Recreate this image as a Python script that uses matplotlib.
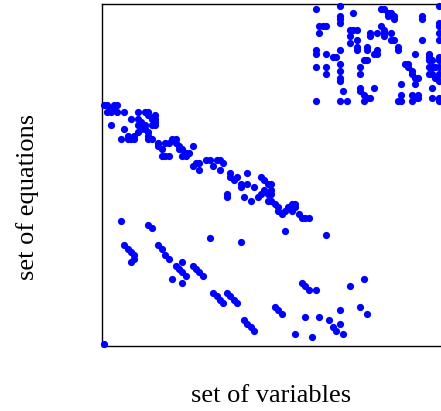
import matplotlib
matplotlib.use("Agg")
import matplotlib.pyplot as plt

# Sparsity pattern (column index = variable, row index = equation)
n_vars = 100
n_eqs = 100

block_top_right = [
    (62,1),(69,0),(69,3),(69,4),(69,5),(73,2),(63,6),(64,6),(65,6),(63,8),(72,7),(73,7),(74,7),
    (72,9),(74,10),(72,11),(74,12),(74,13),(78,8),(78,9),(62,13),(62,14),(65,14),(67,15),(68,15),
    (69,13),(77,12),(77,13),(79,14),(69,17),(76,16),(77,16),(62,18),(65,18),(65,20),(69,19),(69,21),
    (69,22),(75,18),(75,20),(70,25),(75,24),(75,25),(76,26),(77,27),(78,27),(76,28),(79,24),(62,28),
    (69,28),(71,28),
    (81,1),(82,1),(83,2),(83,3),(84,2),(85,3),(85,4),(93,3),(93,4),(98,5),(98,6),(98,0),(80,8),(81,6),
    (82,7),(82,9),(82,8),(84,8),(84,10),(85,10),(93,10),(98,8),(98,10),(86,12),(86,13),(80,13),(80,14),
    (91,14),(95,14),(95,15),(96,16),(95,16),(98,15),(98,16),(88,17),(89,17),(89,18),(90,19),(90,20),
    (91,21),(92,21),(95,18),(96,18),(97,18),(98,18),(95,20),(96,20),(97,21),(98,22),(98,20),(87,23),
    (91,23),(96,24),(87,26),(86,28),(87,28),(90,26),(91,27),(92,26),(92,27),(90,28),(96,27),(98,27),
    (98,28),
]

block_middle = [
    (0,29),(1,29),(3,29),(4,29),(2,30),(3,30),(4,31),(1,31),(2,31),
    (2,35),(6,31),(6,36),(5,39),(8,33),(10,31),(12,31),(13,31),(13,32),(14,33),(15,32),(15,33),(15,34),
    (14,35),(15,35),(10,33),(10,35),(11,36),(11,34),(12,35),(12,36),(13,37),(13,38),(14,39),(13,39),
    (7,38),(7,39),(8,39),(9,39),(10,37),(9,38),
    (16,40),(16,41),(17,42),(17,44),(18,44),(19,44),(18,40),(19,40),
    (20,39),(21,39),(21,40),(22,41),(22,42),(23,42),(24,43),(23,44),(24,44),(25,43),(26,41),
    (26,47),(27,46),(28,46),(30,45),(31,45),(32,47),(33,45),(34,45),(35,46),(28,48),(34,48),
    (37,49),(37,50),(38,51),(39,50),(42,49),(40,52),(40,53),(42,52),(44,53),
    (36,55),(36,56),(41,56),(43,57),(45,56),(46,55),(47,54),(48,55),(49,54),(49,55),
    (46,50),(47,51),(48,52),(49,52),
    (48,57),(49,57),(50,58),(51,59),(51,60),(52,61),(53,60),(54,59),(55,58),(55,60),(56,58),(56,59),
    (57,61),(58,62),(59,62),(60,62),
    (53,66),(65,67),(40,69),(31,68),
]

block_bottom = [
    (5,63),(13,64),(14,65),(6,70),(7,71),(8,72),(9,73),(9,74),(8,75),
    (16,70),(17,71),(18,73),(19,74),
    (21,76),(22,77),(23,78),(24,79),(23,75),(20,80),(23,81),
    (26,76),(27,77),(28,78),(29,79),
    (32,84),(33,85),(34,86),(35,87),(36,84),(37,85),(38,86),(39,87),
    (41,92),(42,93),(43,94),(44,95),(50,88),(0,99),
    (58,81),(59,82),(60,83),(62,83),(72,82),(76,80),(51,89),(52,90),(59,91),(63,91),(66,92),
    (67,94),(68,95),(69,89),(69,93),(70,96),(75,88),(77,90),(56,96),(61,97),
]

x_label = "set of variables"
y_label = "set of equations"

W, H = 441, 411
fig = plt.figure(figsize=(W / 100, H / 100), dpi=100)
ax = fig.add_axes([102 / W, 65 / H, 342 / W, 342 / H])

for block in (block_top_right, block_middle, block_bottom):
    cols = [c for c, r in block]
    rows = [r for c, r in block]
    ax.plot(cols, rows, linestyle="none", marker="o", markersize=5.2,
            markerfacecolor="#0000ff", markeredgewidth=0, color="#0000ff",
            clip_on=False, zorder=3)

ax.set_xlim(-0.5, n_vars - 0.5)
ax.set_ylim(n_eqs - 0.5, -0.5)
ax.set_xticks([])
ax.set_yticks([])
for s in ax.spines.values():
    s.set_linewidth(1.0)
    s.set_color("black")
    s.set_zorder(2)

font = dict(family=["Liberation Serif", "DejaVu Serif"], fontsize=19)
fig.text(271 / W, 1 - 402.3 / H, x_label, ha="center", va="baseline", **font)
fig.text(28 / W, 1 - 197 / H, y_label, ha="center", va="center", rotation=90, **font)

fig.savefig("out.png", dpi=100)
